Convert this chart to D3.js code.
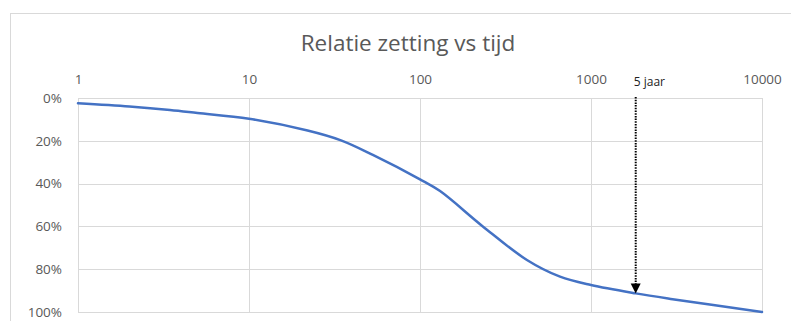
<!DOCTYPE html>
<html><head><meta charset="utf-8">
<script src="https://cdn.jsdelivr.net/npm/d3@7"></script>
<style>body{margin:0;background:#fff}svg{display:block}</style>
</head><body>
<svg id="c" width="791" height="321"></svg>
<script>
const title = "Relatie zetting vs tijd";
const timeDays = [1, 2, 3.45, 5, 10, 22, 34.5, 53, 100, 131, 233, 422, 659, 1000, 1826, 3000, 10000];
const settlementPct = [2.5, 4, 5.6, 7, 9.7, 15.2, 19.8, 26.6, 38, 43.5, 60, 75.7, 83.5, 87.4, 91.3, 94, 100];
const xTicks = [1, 10, 100, 1000, 10000];
const yTicks = [0, 20, 40, 60, 80, 100];
const markerLabel = "5 jaar";
const markerDays = 1826;

const svg = d3.select("#c");
const L = 78, R = 762, T = 98, B = 312;
const x = d3.scaleLog().domain([1, 10000]).range([L, R]);
const y = d3.scaleLinear().domain([0, 100]).range([T, B]);

svg.append("rect").attr("x", 10.5).attr("y", 13.5).attr("width", 800).attr("height", 400)
  .attr("fill", "#fff").attr("stroke", "#d9d9d9");

svg.append("text").attr("x", 408).attr("y", 51).attr("text-anchor", "middle")
  .attr("font-family", "Open Sans").attr("font-size", 22.5).attr("fill", "#595959").text(title);

// gridlines
svg.append("g").selectAll("line").data(yTicks).join("line")
  .attr("x1", L).attr("x2", R).attr("y1", d => Math.round(y(d)) + 0.5).attr("y2", d => Math.round(y(d)) + 0.5)
  .attr("stroke", "#d9d9d9");
svg.append("g").selectAll("line").data(xTicks).join("line")
  .attr("y1", T).attr("y2", B).attr("x1", d => Math.round(x(d)) + 0.5).attr("x2", d => Math.round(x(d)) + 0.5)
  .attr("stroke", "#d9d9d9");

// axes (labels only)
const xAxis = d3.axisTop(x).tickValues(xTicks).tickFormat(d3.format("d")).tickSize(0).tickPadding(14);
const gx = svg.append("g").attr("transform", `translate(0,${T})`).call(xAxis);
const yAxis = d3.axisLeft(y).tickValues(yTicks).tickFormat(d => d + "%").tickSize(0).tickPadding(16);
const gy = svg.append("g").attr("transform", `translate(${L},0)`).call(yAxis);
[gx, gy].forEach(g => {
  g.select(".domain").remove();
  g.selectAll("text").attr("font-family", "Open Sans").attr("font-size", 13.5).attr("fill", "#595959");
});

// curve
const pts = timeDays.map((t, i) => [x(t), y(settlementPct[i])]);
svg.append("path").attr("d", d3.line().curve(d3.curveCatmullRom.alpha(0.5))(pts))
  .attr("fill", "none").attr("stroke", "#4472c4").attr("stroke-width", 2.5).attr("stroke-linecap", "round");

// marker arrow
const mx = x(markerDays);
const idx = timeDays.indexOf(markerDays);
const my = y(settlementPct[idx]);
svg.append("line").attr("x1", mx).attr("x2", mx).attr("y1", T - 1).attr("y2", my - 8)
  .attr("stroke", "#000").attr("stroke-width", 2).attr("stroke-dasharray", "1.5,1.2");
svg.append("path").attr("d", `M${mx - 5},${my - 10} L${mx + 5},${my - 10} L${mx},${my} Z`).attr("fill", "#000");
svg.append("text").attr("x", mx - 2).attr("y", 86).attr("font-family", "Open Sans").attr("font-size", 12)
  .attr("fill", "#222").text(markerLabel);
</script>
</body></html>
